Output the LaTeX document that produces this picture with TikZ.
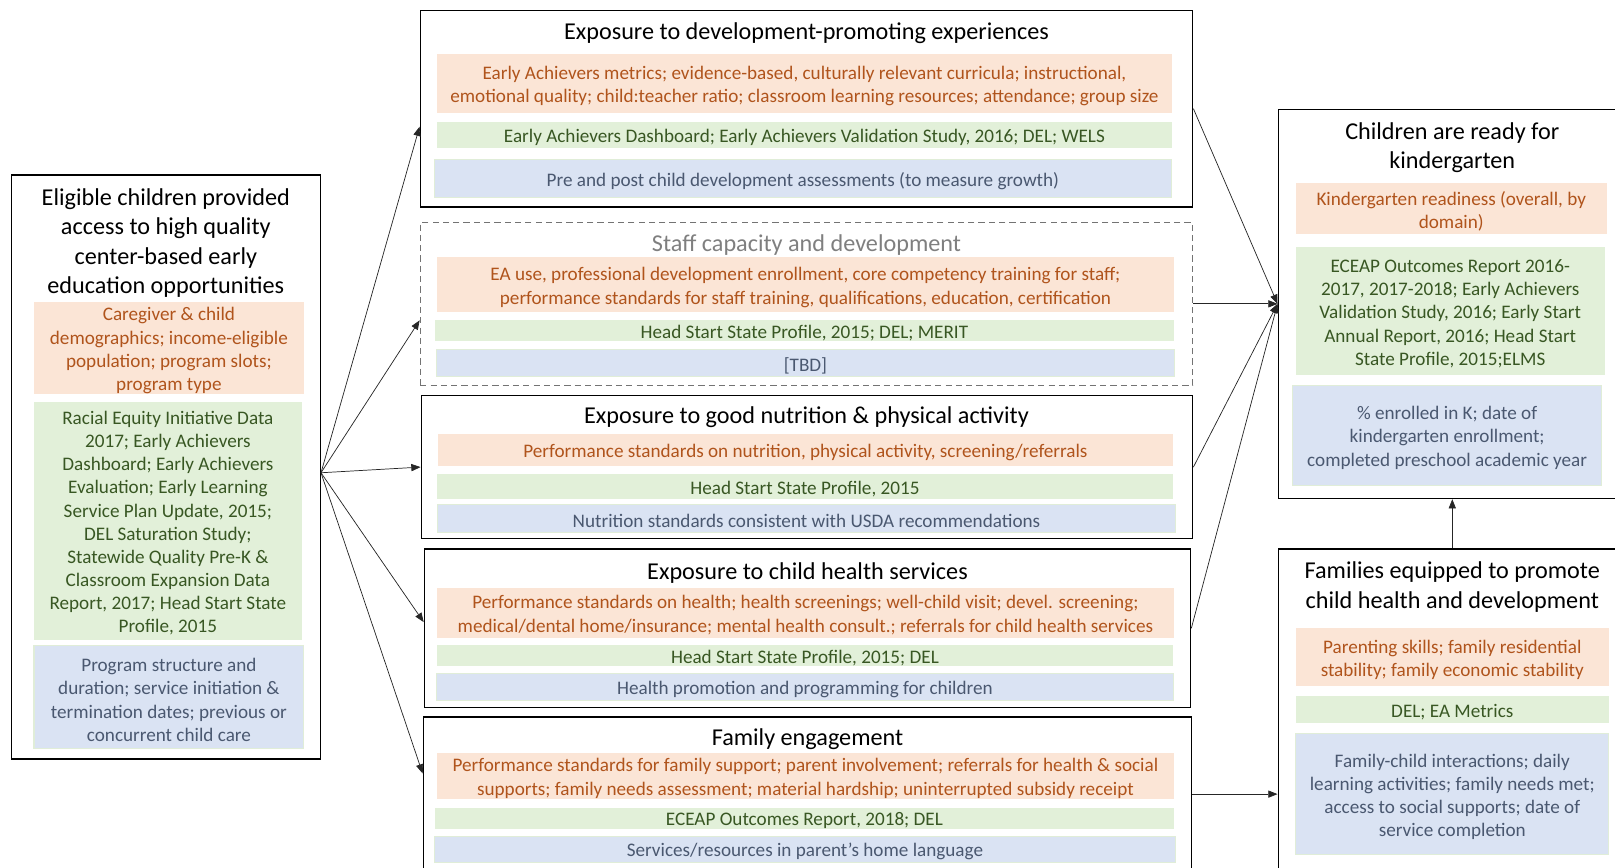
\documentclass[tikz,border=0pt]{standalone}
\usepackage{fontspec}
\setmainfont{Carlito}
\usetikzlibrary{arrows.meta}

\definecolor{orfill}{HTML}{FBE5D6}
\definecolor{ortext}{HTML}{B0541C}
\definecolor{grfill}{HTML}{E2F0D9}
\definecolor{grtext}{HTML}{385723}
\definecolor{blfill}{HTML}{DAE3F3}
\definecolor{bltext}{HTML}{4A5870}
\definecolor{blline}{HTML}{E0EDD8}
\definecolor{titlegray}{HTML}{7F7F7F}

\tikzset{
  outer/.style={draw=black, line width=1.3pt, inner sep=0pt},
  dashedouter/.style={draw=black!55, line width=1.1pt, dash pattern=on 6pt off 4pt, inner sep=0pt},
  orcell/.style={inner sep=0pt, fill=orfill},
  grcell/.style={inner sep=0pt, fill=grfill},
  blcell/.style={inner sep=0pt, fill=blfill, draw=blline, line width=1pt},
  sidetxt/.style={inner sep=0pt, align=center, font=\fontsize{18.6}{22.5}\selectfont},
  midtxt/.style={inner sep=0pt, align=center, font=\fontsize{18.6}{23}\selectfont},
  ttl/.style={inner sep=0pt, align=center, text=black, font=\fontsize{23.5}{28.5}\selectfont},
  mttl/.style={inner sep=0pt, align=center, text=black, font=\fontsize{23.5}{28}\selectfont},
  conn/.style={-{Triangle[length=9pt,width=7pt]}, line width=0.7pt, draw=black!85},
}

% coloured panel with its centred text:
% #1 panel style, #2 text style, #3 name, #4 width, #5 height, #6 centre, #7 text
\newcommand\panelat[7]{%
  \node[#1, minimum width=#4, minimum height=#5] (#3) at (#6) {};
  \node[#2] (#3-txt) at ([yshift=-2.5pt]#3.center) {#7};}

\begin{document}
\begin{tikzpicture}[x=1pt,y=-1pt]
\useasboundingbox (0,0) rectangle (1568,842);
\clip (0,0) rectangle (1568,842);

% ---------- left column ----------
\node[outer, minimum width=300pt, minimum height=567pt] (L) at (161,453.5) {};
\node[ttl] (Lt) at (161,236) {Eligible children provided\\access to high quality\\center-based early\\education opportunities};
\panelat{orcell}{sidetxt, text=ortext}{Lo}{262pt}{90pt}{164,338}
  {Caregiver \& child\\demographics; income-eligible\\population; program slots;\\program type}
\panelat{grcell}{sidetxt, text=grtext}{Lg}{260pt}{231pt}{163,505.5}
  {Racial Equity Initiative Data\\2017; Early Achievers\\Dashboard; Early Achievers\\Evaluation; Early Learning\\Service Plan Update, 2015;\\DEL Saturation Study;\\Statewide Quality Pre-K \&\\Classroom Expansion Data\\Report, 2017; Head Start State\\Profile, 2015}
\panelat{blcell}{sidetxt, text=bltext}{Lb}{262pt}{100pt}{164,677}
  {Program structure and\\duration; service initiation \&\\termination dates; previous or\\concurrent child care}

% ---------- middle column ----------
% development-promoting experiences
\node[outer, minimum width=750pt, minimum height=191pt] (M1) at (783,105.5) {};
\node[mttl] (M1t) at (783,32) {Exposure to development-promoting experiences};
\panelat{orcell}{midtxt, text=ortext}{M1o}{714pt}{58pt}{781,81}
  {Early Achievers metrics; evidence-based, culturally relevant curricula; instructional,\\emotional quality; child:teacher ratio; classroom learning resources; attendance; group size}
\panelat{grcell}{midtxt, text=grtext}{M1g}{714pt}{26pt}{781,131}
  {Early Achievers Dashboard; Early Achievers Validation Study, 2016; DEL; WELS}
\panelat{blcell}{midtxt, text=bltext}{M1b}{715pt}{37pt}{779.5,173.5}
  {Pre and post child development assessments (to measure growth)}

% staff capacity
\node[dashedouter, minimum width=750pt, minimum height=158pt] (M2) at (783,295) {};
\node[mttl, text=titlegray] (M2t) at (783,238) {Staff capacity and development};
\panelat{orcell}{midtxt, text=ortext}{M2o}{716pt}{53pt}{782,276.5}
  {EA use, professional development enrollment, core competency training for staff;\\performance standards for staff training, qualifications, education, certification}
\panelat{grcell}{midtxt, text=grtext}{M2g}{718pt}{20pt}{781,321}
  {Head Start State Profile, 2015; DEL; MERIT}
\panelat{blcell}{midtxt, text=bltext}{M2b}{716pt}{27pt}{782,352.5}{[TBD]}

% nutrition
\node[outer, minimum width=749pt, minimum height=139pt] (M3) at (783.5,453.5) {};
\node[mttl] (M3t) at (783,405) {Exposure to good nutrition \& physical activity};
\panelat{orcell}{midtxt, text=ortext}{M3o}{714pt}{31pt}{782,436.5}
  {Performance standards on nutrition, physical activity, screening/referrals}
\panelat{grcell}{midtxt, text=grtext}{M3g}{715pt}{24pt}{781.5,472}
  {Head Start State Profile, 2015}
\panelat{blcell}{midtxt, text=bltext}{M3b}{716pt}{27pt}{783,503.5}
  {Nutrition standards consistent with USDA recommendations}

% child health
\node[outer, minimum width=744pt, minimum height=154pt] (M4) at (784,610) {};
\node[mttl] (M4t) at (784,556) {Exposure to child health services};
\panelat{orcell}{midtxt, text=ortext}{M4o}{716pt}{48pt}{782,595}
  {Performance standards on health; health screenings; well-child visit; devel. screening;\\medical/dental home/insurance; mental health consult.; referrals for child health services}
\panelat{grcell}{midtxt, text=grtext}{M4g}{715pt}{21pt}{781.5,636.5}
  {Head Start State Profile, 2015; DEL}
\panelat{blcell}{midtxt, text=bltext}{M4b}{715pt}{26pt}{781.5,667}
  {Health promotion and programming for children}

% family engagement
\node[outer, minimum width=746pt, minimum height=150pt] (M5) at (784,771) {};
\node[mttl] (M5t) at (784,718) {Family engagement};
\panelat{orcell}{midtxt, text=ortext}{M5o}{716pt}{45pt}{782,753.5}
  {Performance standards for family support; parent involvement; referrals for health \& social\\supports; family needs assessment; material hardship; uninterrupted subsidy receipt}
\panelat{grcell}{midtxt, text=grtext}{M5g}{718pt}{21pt}{781,794.5}
  {ECEAP Outcomes Report, 2018; DEL}
\panelat{blcell}{midtxt, text=bltext}{M5b}{719pt}{25pt}{781.5,824.5}
  {Services/resources in parent’s home language}

% ---------- right column ----------
\node[outer, minimum width=338pt, minimum height=378pt] (R1) at (1410,295) {};
\node[ttl] (R1t) at (1410,143.5) {Children are ready for\\kindergarten};
\panelat{orcell}{sidetxt, text=ortext}{R1o}{302pt}{49pt}{1409,202.5}
  {Kindergarten readiness (overall, by\\domain)}
\panelat{grcell}{sidetxt, text=grtext}{R1g}{300pt}{124pt}{1408,302}
  {ECEAP Outcomes Report 2016-\\2017, 2017-2018; Early Achievers\\Validation Study, 2016; Early Start\\Annual Report, 2016; Head Start\\State Profile, 2015;ELMS}
\panelat{blcell}{sidetxt, text=bltext}{R1b}{300pt}{97pt}{1405,422.5}
  {\% enrolled in K; date of\\kindergarten enrollment;\\completed preschool academic year}

\node[outer, minimum width=338pt, minimum height=476pt] (R2) at (1410,771) {};
\node[ttl] (R2t) at (1410,570) {Families equipped to promote\\child health and development};
\panelat{orcell}{sidetxt, text=ortext}{R2o}{304pt}{56pt}{1410,638}
  {Parenting skills; family residential\\stability; family economic stability}
\panelat{grcell}{sidetxt, text=grtext}{R2g}{304pt}{26pt}{1410,689}
  {DEL; EA Metrics}
\panelat{blcell}{sidetxt, text=bltext}{R2b}{304pt}{118pt}{1410,771}
  {Family-child interactions; daily\\learning activities; family needs met;\\access to social supports; date of\\service completion}

% ---------- connectors ----------
\draw[conn] ([yshift=-5.5pt]L.east) -- ([yshift=-17.5pt]M1.west);
\draw[conn] ([yshift=-5.5pt]L.east) -- ([yshift=-16pt]M2.west);
\draw[conn] ([yshift=-5.5pt]L.east) -- (M3.west);
\draw[conn] ([yshift=-5.5pt]L.east) -- ([yshift=6pt]M4.west);
\draw[conn] ([yshift=-5.5pt]L.east) -- ([yshift=20pt]M5.west);

\draw[conn] (M1.east) -- (R1.west);
\draw[conn] (M2.east) -- (R1.west);
\draw[conn] (M3.east) -- (R1.west);
\draw[conn] (M4.east) -- (R1.west);
\draw[conn] (M5.east) -- (R2.west);
\draw[conn] (R2.north) -- (R1.south);
\end{tikzpicture}
\end{document}
